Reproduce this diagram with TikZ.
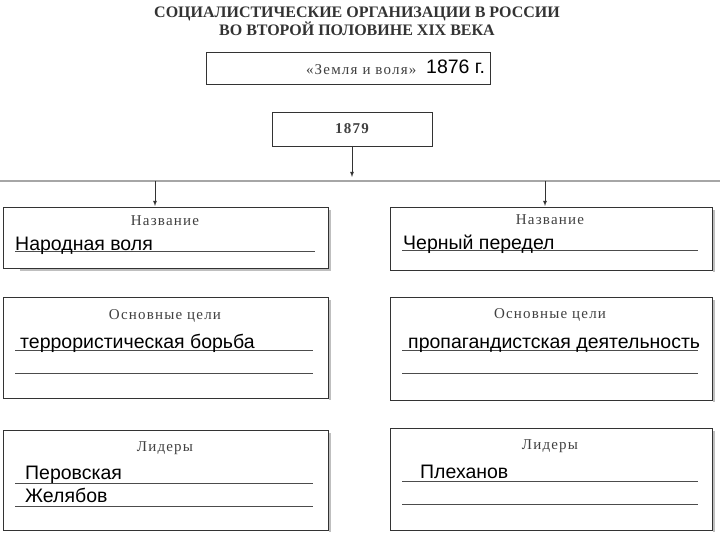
\documentclass[tikz,border=0pt]{standalone}
\usepackage{fontspec}
\setmainfont{Liberation Serif}
\newfontfamily\ans{Liberation Sans}
\newfontfamily\labf[LetterSpace=8]{Liberation Serif}
\begin{document}
\begin{tikzpicture}[x=1pt,y=-1pt,
  box/.style={draw=black!80,line width=0.8pt},
  lab/.style={font=\labf\fontsize{15}{17}\selectfont,text=black!75},
  ans/.style={font=\ans\fontsize{19.5}{23}\selectfont,anchor=base west,inner sep=0},
  rule/.style={draw=black!70,line width=0.6pt},
  arr/.style={draw=black!80,line width=0.8pt,-latex}]
\useasboundingbox (0,0) rectangle (720,540);
\node[font=\bfseries\fontsize{16}{15}\selectfont,text=black!80,align=center] (title) at (357,21) {СОЦИАЛИСТИЧЕСКИЕ ОРГАНИЗАЦИИ В РОССИИ\\ВО ВТОРОЙ ПОЛОВИНЕ XIX ВЕКА};
\draw[box] (206,52) rectangle (490,84);
\node[lab,anchor=east] (zv) at (420,70) {«Земля и воля»};
\node[ans,anchor=west,inner sep=2pt] (y76) at (424,67) {1876 г.};
\draw[box] (272,112) rectangle (432,146);
\node[lab,font=\labf\bfseries\fontsize{15}{17}\selectfont] (y79) at (352,129) {1879};
\coordinate (b79) at (352,146);
\coordinate (m79) at (352,177);
\draw[arr] (b79) -- (m79);
\draw[black!35,line width=1.2pt] (0,181) -- (720,181);
\coordinate (la) at (155,181); \coordinate (lb) at (155,206);
\coordinate (ra) at (545,181); \coordinate (rb) at (545,206);
\draw[arr] (la) -- (lb);
\draw[arr] (ra) -- (rb);
% left column
\draw[box] (3,207) rectangle (328,268);
\draw[black!25,line width=2pt] (330,210) -- (330,270) -- (20,270);
\node[lab] (ln) at (165,221) {Название};
\draw[rule] (15,251) -- (315,251);
\node[ans] (nv) at (15,250) {Народная воля};
\draw[box] (3,297) rectangle (328,398);
\draw[black!25,line width=2pt] (330,300) -- (330,400);
\node[lab] (lc) at (165,316) {Основные цели};
\draw[rule] (15,350) -- (313,350);
\draw[rule] (15,373) -- (313,373);
\node[ans] (tb) at (20,348) {террористическая борьба};
\draw[box] (3,430) rectangle (328,530);
\draw[black!25,line width=2pt] (330,433) -- (330,532);
\node[lab] (ll) at (165,448) {Лидеры};
\draw[rule] (15,483) -- (313,483);
\draw[rule] (15,506) -- (313,506);
\node[ans] (per) at (25,479) {Перовская};
\node[ans] (zh) at (25,502) {Желябов};
% right column
\draw[box] (390,207) rectangle (712,270);
\draw[black!25,line width=2pt] (714,210) -- (714,272);
\node[lab] (rn) at (550,220) {Название};
\draw[rule] (402,250) -- (698,250);
\node[ans] (chp) at (403,249) {Черный передел};
\draw[box] (390,297) rectangle (712,400);
\draw[black!25,line width=2pt] (714,300) -- (714,402);
\node[lab] (rc) at (550,315) {Основные цели};
\draw[rule] (402,350) -- (698,350);
\draw[rule] (402,373) -- (698,373);
\node[ans] (pd) at (408,348) {пропагандистская деятельность};
\draw[box] (390,428) rectangle (712,530);
\draw[black!25,line width=2pt] (714,431) -- (714,532);
\node[lab] (rl) at (550,446) {Лидеры};
\draw[rule] (402,481) -- (698,481);
\draw[rule] (402,504) -- (698,504);
\node[ans] (pl) at (420,478) {Плеханов};
\end{tikzpicture}
\end{document}
